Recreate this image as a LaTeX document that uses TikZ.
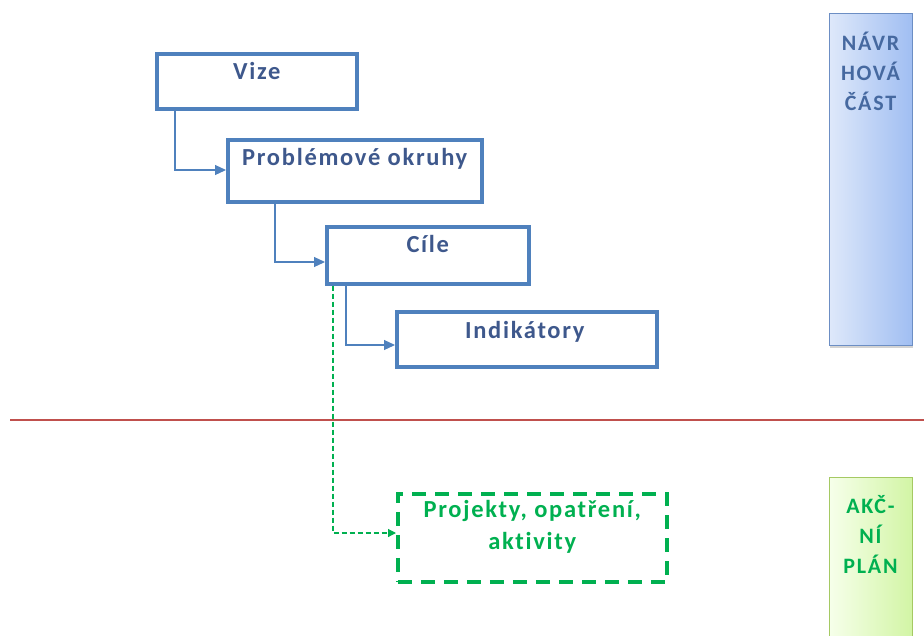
\documentclass[tikz,border=0pt]{standalone}
\usepackage{fontspec}
\setmainfont{Carlito}
\newfontfamily\boxfont[LetterSpace=7,Ligatures=NoCommon]{Carlito}
\newfontfamily\sidefont[LetterSpace=8,Ligatures=NoCommon]{Carlito}
\usetikzlibrary{arrows.meta,shadows}
\definecolor{boxblue}{RGB}{79,129,189}
\definecolor{txtblue}{RGB}{62,88,140}
\definecolor{grn}{RGB}{0,176,80}
\definecolor{redline}{RGB}{192,80,77}
\definecolor{navrtxt}{RGB}{70,105,160}
\definecolor{navrL}{RGB}{222,232,250}
\definecolor{navrR}{RGB}{160,190,242}
\definecolor{navrB}{RGB}{108,142,196}
\definecolor{akcL}{RGB}{246,255,234}
\definecolor{akcR}{RGB}{210,245,165}
\definecolor{akcB}{RGB}{165,201,99}
\tikzset{
  stagebox/.style={draw=boxblue, line width=3.5pt, anchor=north west, inner sep=0pt},
  boxtext/.style={font=\boxfont\bfseries\fontsize{24.5}{32}\selectfont, text=txtblue, anchor=base, inner sep=0pt},
  conn/.style={draw=boxblue, line width=1.2pt, -{Triangle[length=11pt,width=10pt]}},
  gconn/.style={draw=grn, line width=1.2pt, dash pattern=on 5pt off 3pt, -{Triangle[length=8pt,width=8pt]}},
  sidetext/.style={font=\sidefont\bfseries\fontsize{22}{30}\selectfont, align=center, anchor=base, inner sep=0pt},
}
\begin{document}
\begin{tikzpicture}[x=1pt,y=-1pt]
\useasboundingbox (0,0) rectangle (924,635);
% red divider
\draw[redline, line width=2pt] (10,420) -- (924,420);
% side panels
\node[draw=navrB, line width=0.8pt, left color=navrL, right color=navrR,
      minimum width=83pt, minimum height=332pt, anchor=north west, inner sep=0pt,
      drop shadow={shadow xshift=1pt, shadow yshift=-3pt, opacity=0.35}] (navr) at (829,13) {};
\node[sidetext, text=navrtxt] (navrt) at (870.5,110) {NÁVR\\HOVÁ\\ČÁST};
\node[draw=akcB, line width=0.8pt, left color=akcL, right color=akcR,
      minimum width=83pt, minimum height=170pt, anchor=north west, inner sep=0pt] (akc) at (829,477) {};
\node[sidetext, text=grn] (akct) at (870.5,573) {AKČ-\\NÍ\\PLÁN};
% stage boxes
\node[stagebox, minimum width=200pt, minimum height=55pt] (vize) at (155,52) {};
\node[boxtext] (vizet) at (vize.north |- 0,79) {Vize};
\node[stagebox, minimum width=254pt, minimum height=62pt] (prob) at (226,138) {};
\node[boxtext] (probt) at (prob.north |- 0,165) {Problémové okruhy};
\node[stagebox, minimum width=202pt, minimum height=57pt] (cile) at (325,225) {};
\node[boxtext] (cilet) at (cile.north |- 0,252) {Cíle};
\node[stagebox, minimum width=260pt, minimum height=55pt] (ind) at (395,310) {};
\node[boxtext] (indt) at ([xshift=-2pt]ind.north |- 0,338) {Indikátory};
% action box
\node[draw=grn, line width=3.5pt, dash pattern=on 14pt off 9pt, minimum width=269pt, minimum height=88pt,
      anchor=north west, inner sep=0pt] (proj) at (396,492) {};
\node[boxtext, text=grn, align=center] (projt) at (proj.north |- 0,549) {Projekty, opatření,\\aktivity};
% connectors
\draw[conn] ([xshift=20pt]vize.south west) |- (prob.west |- 0,170);
\draw[conn] ([xshift=49pt]prob.south west) |- (cile.west |- 0,262);
\draw[conn] ([xshift=21pt]cile.south west) |- (ind.west |- 0,345);
\draw[gconn] ([xshift=8pt]cile.south west) |- (proj.west |- 0,533);
\end{tikzpicture}
\end{document}
